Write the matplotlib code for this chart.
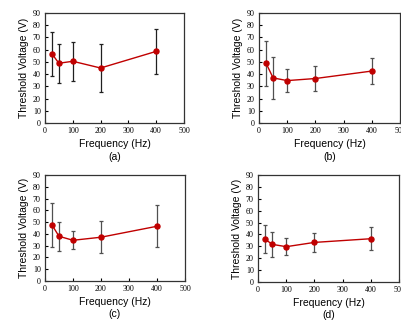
import matplotlib
matplotlib.use("Agg")
import matplotlib.pyplot as plt
import numpy as np

# frequencies (Hz)
freq = [25, 50, 100, 200, 400]

# threshold voltage (V) and error bars, per panel
vt_a = [56.6, 48.9, 50.5, 45.0, 58.6]
err_a = [18.0, 16.0, 16.0, 19.5, 18.5]

vt_b = [48.9, 36.9, 34.7, 36.4, 42.5]
err_b = [18.3, 17.2, 9.2, 10.0, 10.4]

vt_c = [47.6, 38.0, 34.6, 37.2, 46.5]
err_c = [18.7, 12.3, 7.6, 13.8, 17.9]

vt_d = [36.1, 31.7, 29.7, 33.3, 36.4]
err_d = [11.5, 10.4, 7.2, 8.0, 9.8]

panel_names = ["(a)", "(b)", "(c)", "(d)"]
xticks = [0, 100, 200, 300, 400, 500]
yticks = [0, 10, 20, 30, 40, 50, 60, 70, 80, 90]

# axes boxes in figure fractions (left, bottom, width, height)
boxes = [
    [0.1122, 0.6168, 0.3466, 0.3427],
    [0.6459, 0.6168, 0.3516, 0.3427],
    [0.1122, 0.1246, 0.3490, 0.3300],
    [0.6434, 0.1215, 0.3516, 0.3333],
]
ebar_colors = ["#202020", "#505050", "#505050", "#505050"]

fig = plt.figure(figsize=(4.01, 3.21), dpi=100)
fig.patch.set_facecolor("white")

series = [(vt_a, err_a), (vt_b, err_b), (vt_c, err_c), (vt_d, err_d)]
for i, (vals, errs) in enumerate(series):
    ax = fig.add_axes(boxes[i])
    ax.errorbar(freq, vals, yerr=errs, fmt="none", ecolor=ebar_colors[i],
                elinewidth=0.9, capsize=1.5, capthick=0.9, zorder=2)
    ax.plot(freq, vals, color="#C00000", lw=1.0, marker="o", ms=3.6,
            mfc="#C00000", mec="#C00000", zorder=3)
    ax.set_xlim(0, 500)
    ax.set_ylim(0, 90)
    ax.set_xticks(xticks)
    ax.set_yticks(yticks)
    ax.tick_params(direction="in", length=2.5, width=0.8, labelsize=5.8, pad=3)
    for lab in ax.get_xticklabels() + ax.get_yticklabels():
        lab.set_family("Liberation Serif")
    for sp in ax.spines.values():
        sp.set_linewidth(0.9)
        sp.set_color("#333333")
    ax.set_xlabel("Frequency (Hz)", fontsize=7.5, family="Liberation Sans", labelpad=3)
    ax.set_ylabel("Threshold Voltage (V)", fontsize=7.5, family="Liberation Sans", labelpad=3)
    ax.text(0.5, -0.31, panel_names[i], transform=ax.transAxes, ha="center",
            va="center", fontsize=7.5, family="Liberation Sans")

fig.savefig("out.png", dpi=100)
